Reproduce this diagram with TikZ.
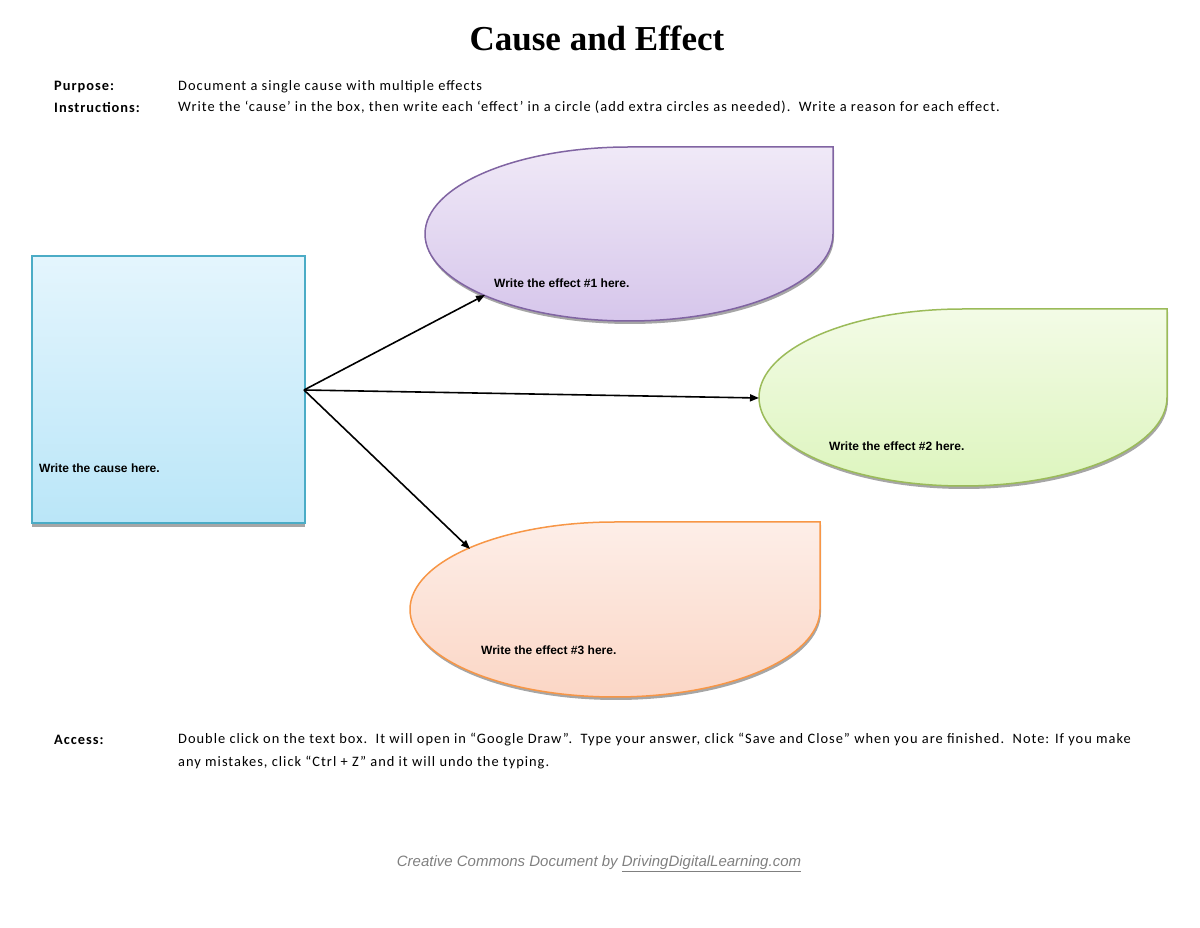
\documentclass[tikz,border=0pt]{standalone}
\usepackage{fontspec}
\setmainfont{Carlito}[LetterSpace=7]
\newfontfamily\arialf{Liberation Sans}
\newfontfamily\titlef{Liberation Serif}
\usetikzlibrary{arrows.meta}
\definecolor{pbd}{HTML}{8064A2}\definecolor{pt}{HTML}{F0E9F7}\definecolor{pb}{HTML}{D6C6EB}
\definecolor{gbd}{HTML}{9BBB59}\definecolor{gt}{HTML}{F3FBE6}\definecolor{gb}{HTML}{DDF5BE}
\definecolor{obd}{HTML}{F79646}\definecolor{ot}{HTML}{FDEEE8}\definecolor{ob}{HTML}{FBD6C5}
\definecolor{bbd}{HTML}{4BACC6}\definecolor{bt}{HTML}{E4F5FD}\definecolor{bb}{HTML}{BAE6F8}
\begin{document}
\begin{tikzpicture}[x=1pt,y=1pt,
  lbl/.style={font=\arialf\bfseries\fontsize{12}{13}\selectfont,anchor=west,inner sep=0},
  txt/.style={font=\fontsize{14.4}{16}\selectfont,anchor=west,inner sep=0},
  arr/.style={-{Triangle[length=9pt,width=7pt]},line width=1.6pt}]
\useasboundingbox (0,0) rectangle (1200,927);
% title
\node[font=\titlef\bfseries\fontsize{35}{38}\selectfont] (title) at (597,889) {Cause and Effect};
\node[txt,font=\bfseries\fontsize{14.4}{16}\selectfont] (p1) at (54,840) {Purpose:};
\node[txt] (p2) at (178,840) {Document a single cause with multiple effects};
\node[txt,font=\bfseries\fontsize{14.4}{16}\selectfont] (i1) at (54,820) {Instructions:};
\node[txt] (i2) at (178,820) {Write the ‘cause’ in the box, then write each ‘effect’ in a circle (add extra circles as needed).\ \ Write a reason for each effect.};
\node[txt,font=\bfseries\fontsize{14.4}{16}\selectfont] (a1) at (54,187) {Access:};
\node[txt] (a2) at (178,187) {Double click on the text box.\ \ It will open in “Google Draw”.\ \ Type your answer, click “Save and Close” when you are finished.\ \ Note: If you make};
\node[txt] (a3) at (178,164) {any mistakes, click “Ctrl + Z” and it will undo the typing.};
\node[font=\arialf\itshape\fontsize{15}{17}\selectfont,text=gray] (foot) at (599,63) {Creative Commons Document by \underline{DrivingDigitalLearning.com}};
% shadows
\foreach \cx/\cy/\rx/\ry in {629/693/204/87, 963/529.5/204/88.5, 615/317.5/205/87.5}{
  \fill[black!35] (\cx+1,\cy+\ry-3) -- (\cx+\rx+1,\cy+\ry-3) -- (\cx+\rx+1,\cy-3) arc[start angle=0,end angle=-270,x radius=\rx,y radius=\ry] -- cycle;
}
\fill[black!35] (32,400) rectangle (305,667);
% shapes
\path[draw=pbd,line width=1.5pt,top color=pt,bottom color=pb] (629,780) -- (833,780) -- (833,693) arc[start angle=0,end angle=-270,x radius=204,y radius=87] -- cycle;
\path[draw=gbd,line width=1.5pt,top color=gt,bottom color=gb] (963,618) -- (1167,618) -- (1167,529.5) arc[start angle=0,end angle=-270,x radius=204,y radius=88.5] -- cycle;
\path[draw=obd,line width=1.5pt,top color=ot,bottom color=ob] (615,405) -- (820,405) -- (820,317.5) arc[start angle=0,end angle=-270,x radius=205,y radius=87.5] -- cycle;
\node[draw=bbd,line width=1.5pt,top color=bt,bottom color=bb,minimum width=273pt,minimum height=267pt,inner sep=0,anchor=south west] (cause) at (31,403) {};
% labels
\node[lbl] (e1) at (494,644) {Write the effect \#1 here.};
\node[lbl] (e2) at (829,481) {Write the effect \#2 here.};
\node[lbl] (e3) at (481,277) {Write the effect \#3 here.};
\node[lbl] (c) at (39,459) {Write the cause here.};
% arrows
\coordinate (s) at (304,537);
\coordinate (t1) at (485,632);
\coordinate (t2) at (759,529);
\coordinate (t3) at (470,378);
\draw[arr] (s) -- (t1);
\draw[arr] (s) -- (t2);
\draw[arr] (s) -- (t3);
\end{tikzpicture}
\end{document}
